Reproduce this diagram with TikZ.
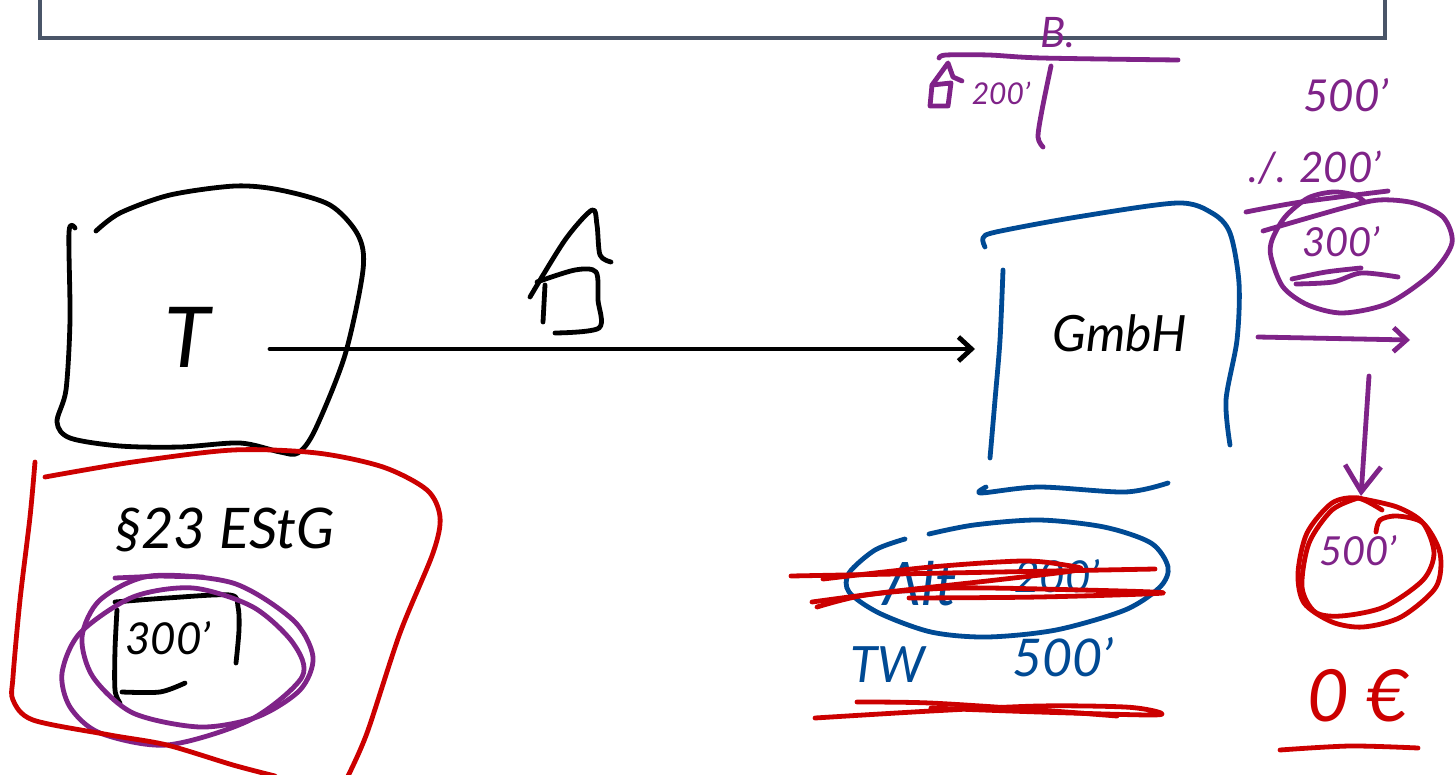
\documentclass[tikz,border=0pt]{standalone}
\usepackage{fontspec}
\setmainfont{Lato}
\usetikzlibrary{arrows.meta}

\definecolor{inkblue}{HTML}{004A94}
\definecolor{inkred}{HTML}{CC0000}
\definecolor{inkpurple}{HTML}{7F2388}
\definecolor{framegray}{HTML}{4A5568}

\tikzset{
  ink/.style={line width=4.8pt,line cap=round,line join=round},
  barb/.style={-{Straight Barb[length=13pt,width=24pt]}},
  bigbarb/.style={-{Straight Barb[length=26pt,width=36pt]}},
  hand/.style={inner sep=0pt,font=\itshape\fontsize{#1}{#1}\selectfont},
}

\begin{document}
\begin{tikzpicture}[x=1pt,y=-1pt]
  \clip (0,0) rectangle (1456,774);
  \fill[white] (0,0) rectangle (1456,774);
  % frame at the top
  \draw[framegray,line width=4.5pt] (40,-5) -- (40,38) -- (1385,38) -- (1385,-5);

  % left side
  \node[hand=84,black] (tax) at (187,337) {T};
  \draw[ink] plot[smooth] coordinates {(75,228) (69,232) (70,320) (66,390) (57,422) (70,438) (120,446) (180,447) (240,443) (280,452) (298,453) (315,430) (345,355) (363,270) (358,235) (330,205) (280,190) (235,186) (170,195) (120,213) (96,231)};
  \node[hand=56,black] (law) at (225,530) {§23 EStG};
  \node[hand=44,black] (paid) at (168,638) {300'};
  \draw[ink] plot[smooth] coordinates {(115,602) (167,598) (230,595) (238,607) (239,630) (236,663)};
  \draw[ink] plot[smooth] coordinates {(117,610) (115,650) (115,690) (120,703)};
  \draw[ink] plot[smooth] coordinates {(122,692) (160,692) (185,683)};
  \draw[ink,inkpurple] (115,578) -- (160,576) -- (203,577);
  \draw[ink,inkpurple] plot[smooth cycle] coordinates {(82,637) (100,600) (150,576) (233,583) (293,620) (313,657) (300,690) (257,717) (200,727) (133,713) (93,677)};
  \draw[ink,inkpurple] plot[smooth cycle] coordinates {(62,673) (80,633) (133,597) (193,588) (253,607) (293,643) (302,677) (250,720) (167,745) (100,733) (70,707)};
  \draw[ink,inkred] plot[smooth] coordinates {(35,462) (30,517) (20,600) (13,677) (13,700) (33,720) (110,735) (167,745) (233,765) (275,776)};
  \draw[ink,inkred] plot[smooth] coordinates {(45,477) (133,462) (233,450) (317,453) (383,467) (427,490) (440,517) (433,553) (400,633) (367,733) (347,778)};

  % house on the arrow
  \draw[ink] plot[smooth] coordinates {(530,297) (565,240) (592,210) (597,225) (600,255) (611,262)};
  \draw[ink] plot[smooth] coordinates {(537,282) (575,270) (596,272) (598,300) (599,328) (555,333)};
  \draw[ink] (545,285) -- (543,322);

  % right side
  \node[hand=50,black] (gmbh) at (1120,333) {GmbH};
  \draw[ink,barb] ([shift={(83,12)}]tax.center) -- ([shift={(-145,16)}]gmbh.center);
  \draw[ink,inkblue] plot[smooth] coordinates {(985,247) (983,238) (996,232) (1077,217) (1177,203) (1212,213) (1230,233) (1239,283) (1237,340) (1226,400) (1230,445)};
  \draw[ink,inkblue] plot[smooth] coordinates {(1003,270) (1000,340) (995,400) (990,458)};
  \draw[ink,inkblue] plot[smooth] coordinates {(986,487) (981,493) (1039,487) (1125,492) (1168,483)};
  \draw[ink,inkblue] plot[smooth] coordinates {(905,539) (875,550) (849,573) (849,592) (879,613) (931,632) (987,637) (1056,630) (1125,610) (1160,587) (1168,567) (1151,543) (1104,527) (1039,520) (974,525) (929,534)};
  \node[hand=60,inkblue] (old) at (920,584) {Alt};
  \node[hand=44,inkblue] (oldvalue) at (1057,576) {200'};
  \node[hand=50,inkblue] (newtw) at (888,665) {TW};
  \node[hand=52,inkblue] (newvalue) at (1063,657) {500'};
  \draw[ink,inkred] (791,576) -- (1155,569);
  \draw[ink,inkred] plot[smooth] coordinates {(823,579) (931,567) (1022,561) (1065,565) (1078,570) (996,580) (888,592) (812,602)};
  \draw[ink,inkred] plot[smooth] coordinates {(817,607) (866,595) (953,588) (1082,590) (1163,593) (1039,597) (909,598)};
  \draw[ink,inkred] plot[smooth] coordinates {(857,702) (930,703) (1039,710) (1117,716)};
  \draw[ink,inkred] plot[smooth] coordinates {(815,718) (931,711) (1039,706) (1125,707) (1158,712) (1151,715) (1039,712) (931,708)};

  % purple calculation
  \node[hand=42,inkpurple] (gain) at (1058,33) {B.};
  \draw[ink,inkpurple] plot[smooth] coordinates {(939,58) (946,55) (989,55) (1042,58) (1178,60)};
  \draw[ink,inkpurple] plot[smooth] coordinates {(1051,66) (1042,110) (1038,137) (1043,147)};
  \draw[ink,inkpurple] (932,85) -- (948,63) -- (953,77) -- (962,81);
  \draw[ink,inkpurple] (932,85) -- (930,106) -- (948,106) -- (951,83) -- cycle;
  \node[hand=30,inkpurple] (housevalue) at (1001,93) {200'};
  \node[hand=44,inkpurple] (sum) at (1346,95) {500'};
  \node[hand=42,inkpurple] (minus) at (1315,168) {./. 200'};
  \draw[ink,inkpurple] plot[smooth] coordinates {(1246,212) (1301,202) (1388,191)};
  \draw[ink,inkpurple] plot[smooth] coordinates {(1263,231) (1343,208) (1379,200) (1414,203) (1443,217) (1452,243) (1432,273) (1389,303) (1343,313) (1308,305) (1283,287) (1271,257) (1272,240) (1285,217) (1308,198) (1333,192) (1354,195) (1365,202)};
  \node[hand=40,inkpurple] (rest) at (1341,242) {300'};
  \draw[ink,inkpurple] plot[smooth] coordinates {(1292,279) (1326,272) (1361,268)};
  \draw[ink,inkpurple] plot[smooth] coordinates {(1296,284) (1333,282) (1361,273) (1398,277)};
  \coordinate (salestart) at (1258,337);
  \coordinate (saleend) at (1410,340);
  \draw[ink,inkpurple,barb] (salestart) -- (saleend);
  \coordinate (downstart) at (1369,376);
  \node[hand=40,inkpurple] (total) at (1358,551) {500'};
  \draw[ink,inkpurple,bigbarb] (downstart) -- ([shift={(3,-55)}]total.center);
  \draw[ink,inkred] plot[smooth] coordinates {(1382,510) (1358,498) (1332,503) (1307,533) (1298,573) (1304,603) (1332,622) (1363,627) (1401,617) (1436,587) (1440,553) (1423,523) (1397,516) (1380,520) (1376,532)};
  \draw[ink,inkred] plot[smooth] coordinates {(1358,498) (1397,507) (1423,523) (1434,553) (1423,580) (1384,607) (1341,616) (1315,612) (1302,587) (1309,543) (1332,510) (1358,498)};
  \node[hand=72,inkred] (tax0) at (1358,696) {0 €};
  \draw[ink,inkred] plot[smooth] coordinates {(1280,750) (1350,746) (1418,748)};
\end{tikzpicture}
\end{document}
